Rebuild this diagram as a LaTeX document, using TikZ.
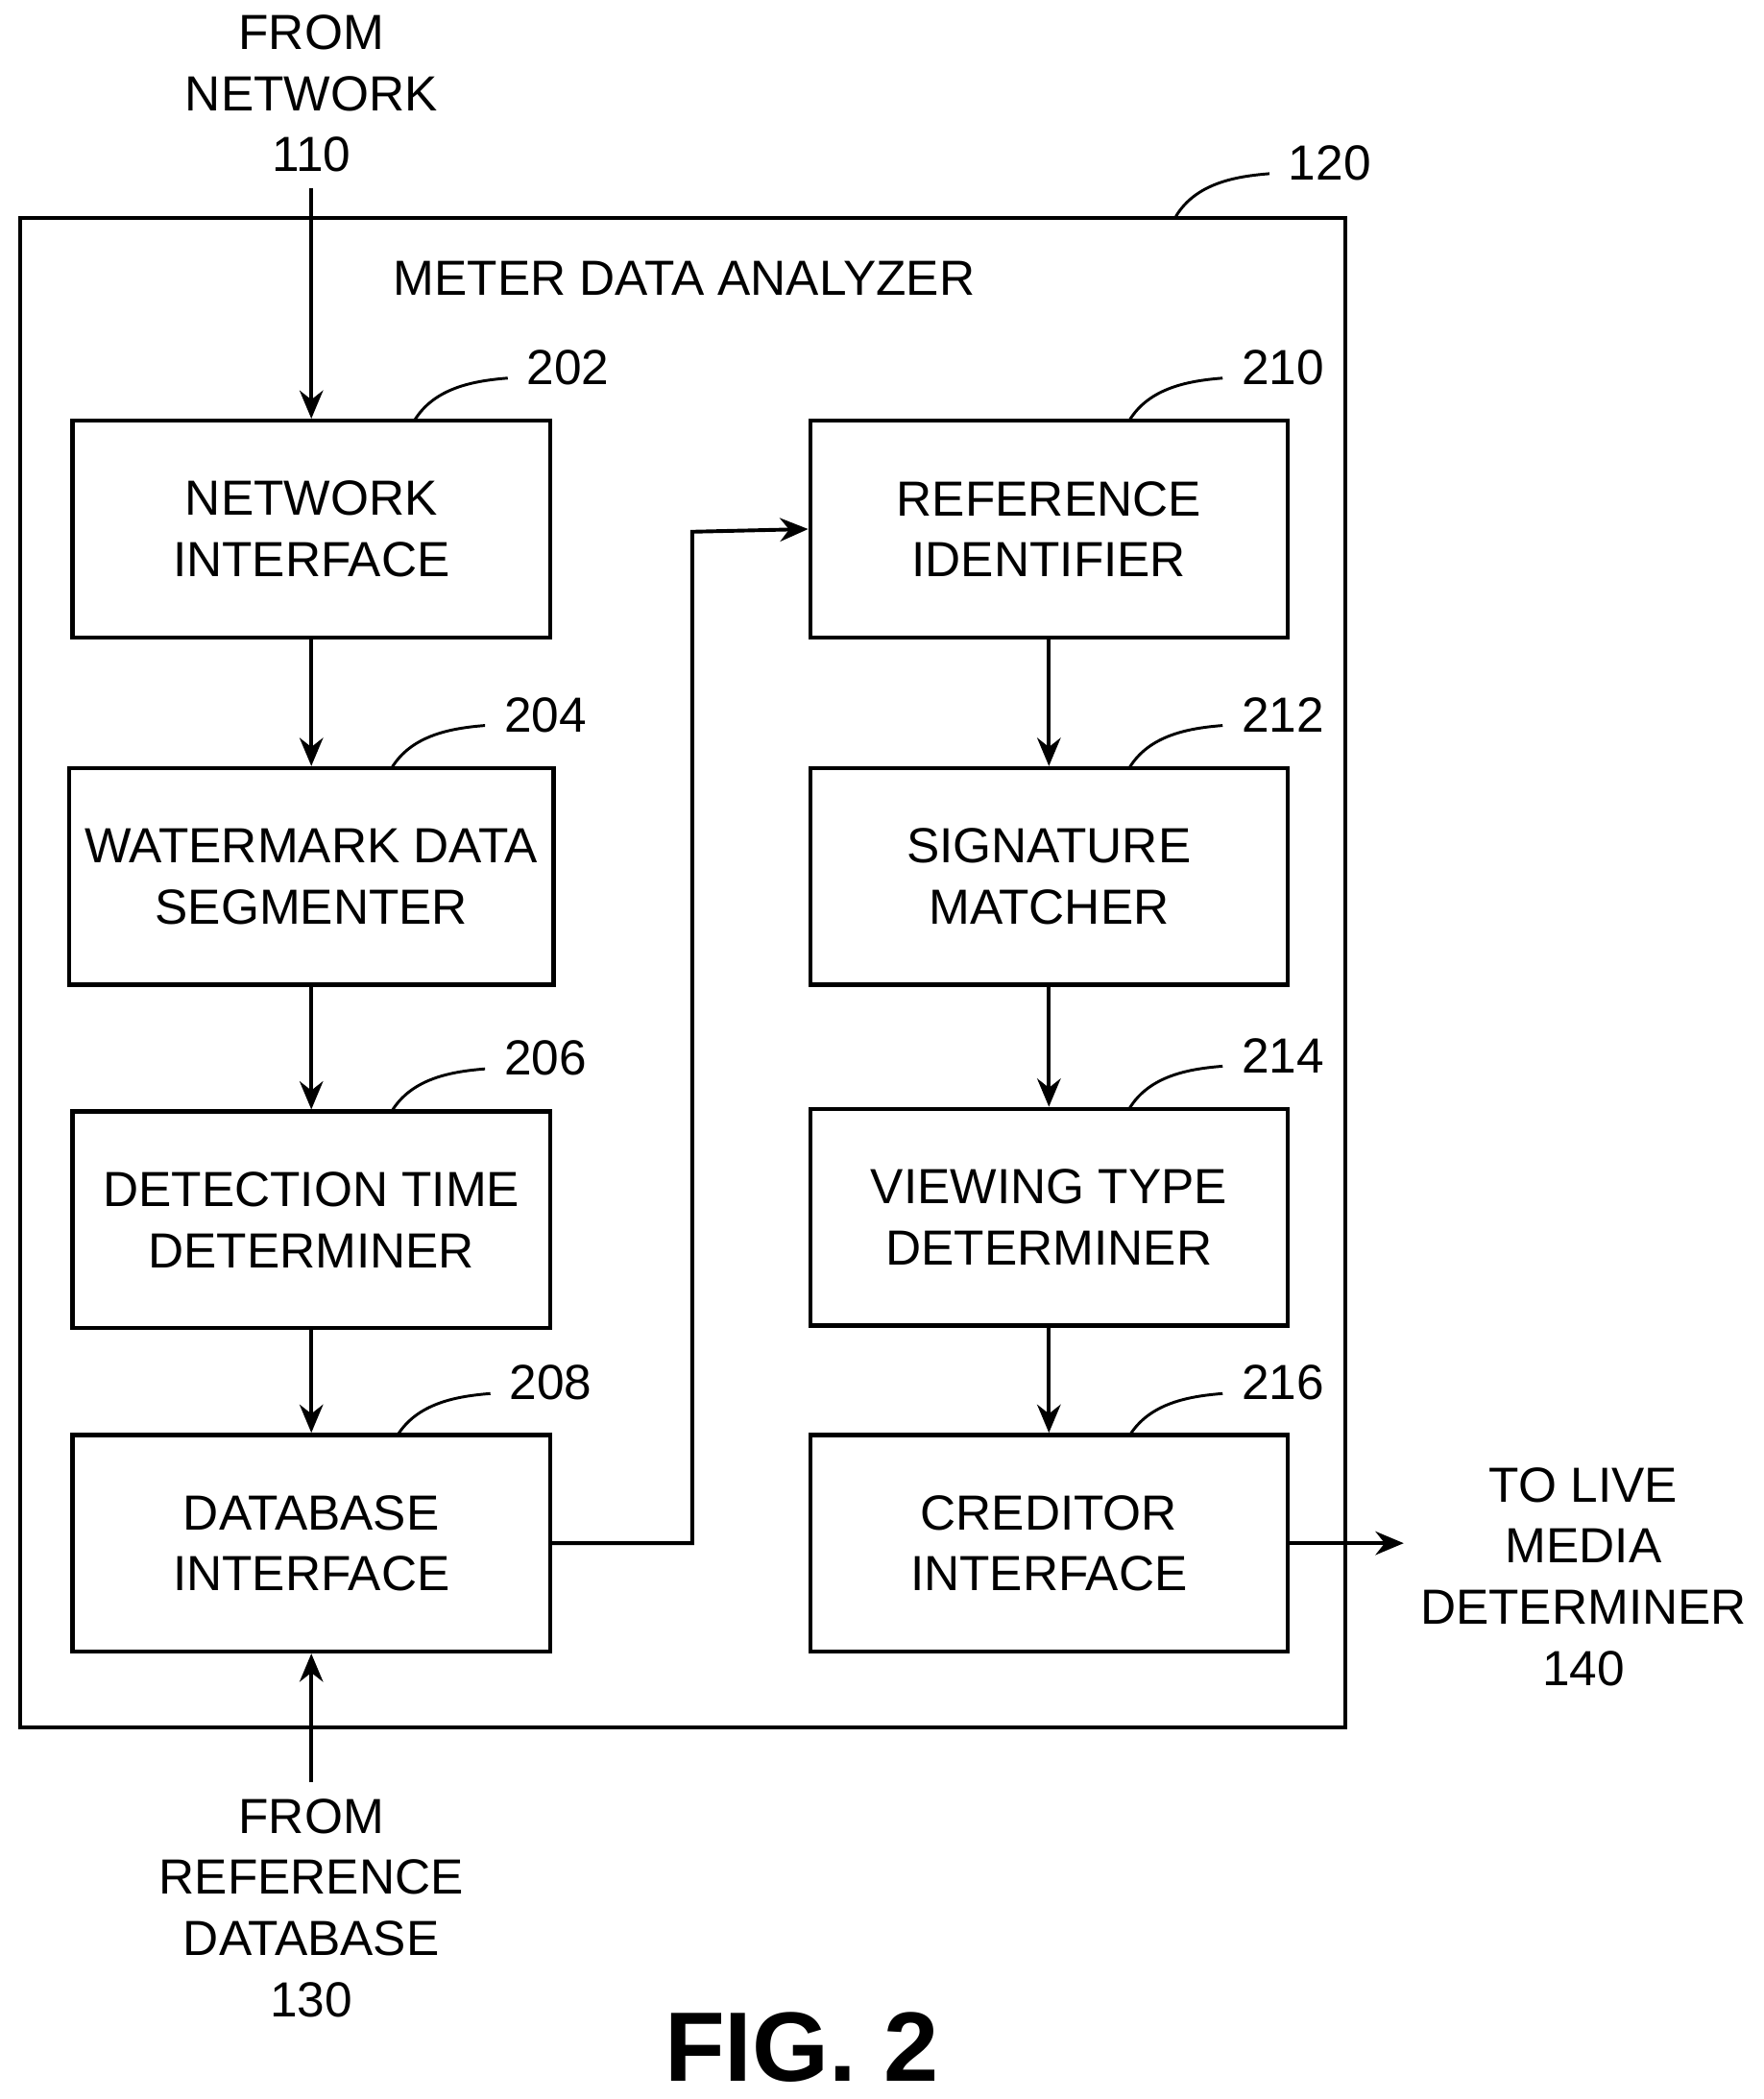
\documentclass[tikz,border=0pt]{standalone}
\usepackage{fontspec}
\setmainfont{Liberation Sans}
\usetikzlibrary{arrows.meta,positioning}
\tikzset{
  blk/.style={draw,line width=0.9pt,minimum width=3.57cm,minimum height=1.62cm,align=center,font=\fontsize{10.5}{13}\selectfont},
  lbl/.style={align=center,font=\fontsize{10.5}{13}\selectfont},
  arr/.style={-{Stealth[length=6pt,width=5pt]},line width=0.8pt},
  tag/.style={line width=0.6pt}
}
\begin{document}
\begin{tikzpicture}[x=0.01cm,y=-0.01cm]
  \useasboundingbox (0,0) rectangle (1320,1571);
  \draw[line width=0.9pt] (15,163) rectangle (1007,1293);
  \node[lbl] (title) at (512,208) {METER DATA ANALYZER};
  % left column
  \node[blk] (ni)  at (233,396)  {NETWORK\\INTERFACE};
  \node[blk] (wds) at (233,656)  {WATERMARK DATA\\SEGMENTER};
  \node[blk] (dtd) at (233,913)  {DETECTION TIME\\DETERMINER};
  \node[blk] (dbi) at (233,1155) {DATABASE\\INTERFACE};
  % right column
  \node[blk] (ri)  at (785,396)  {REFERENCE\\IDENTIFIER};
  \node[blk] (sm)  at (785,656)  {SIGNATURE\\MATCHER};
  \node[blk] (vtd) at (785,911)  {VIEWING TYPE\\DETERMINER};
  \node[blk] (ci)  at (785,1155) {CREDITOR\\INTERFACE};
  % outside texts
  \node[lbl] (fnet) at (233,70)   {FROM\\NETWORK\\110};
  \node[lbl] (fref) at (233,1428) {FROM\\REFERENCE\\DATABASE\\130};
  \node[lbl] (tlm)  at (1185,1180) {TO LIVE\\MEDIA\\DETERMINER\\140};
  \node[font=\bfseries\fontsize{21}{24}\selectfont] (fig) at (600,1532) {FIG. 2};
  % connectors
  \draw[arr] (fnet) -- (ni);
  \draw[arr] (ni) -- (wds);
  \draw[arr] (wds) -- (dtd);
  \draw[arr] (dtd) -- (dbi);
  \draw[arr] (fref) -- (dbi);
  \draw[arr] (dbi.east) -| (518,398) -- (ri.west);
  \draw[arr] (ri) -- (sm);
  \draw[arr] (sm) -- (vtd);
  \draw[arr] (vtd) -- (ci);
  \draw[arr] (ci.east) -- (tlm.west |- ci.east);
  % reference numerals
  \foreach \x/\y/\n in {310/315/202, 293/575/204, 293/832/206, 297/1075/208,
                        845/315/210, 845/575/212, 845/830/214, 845/1075/216, 880/162/120}{
    \draw[tag] (\x,\y) .. controls (\x+15,\y-25) and (\x+45,\y-30) .. (\x+70,\y-32);
    \node[lbl,anchor=west] at (\x+72,\y-40) {\n};
  }
\end{tikzpicture}
\end{document}
